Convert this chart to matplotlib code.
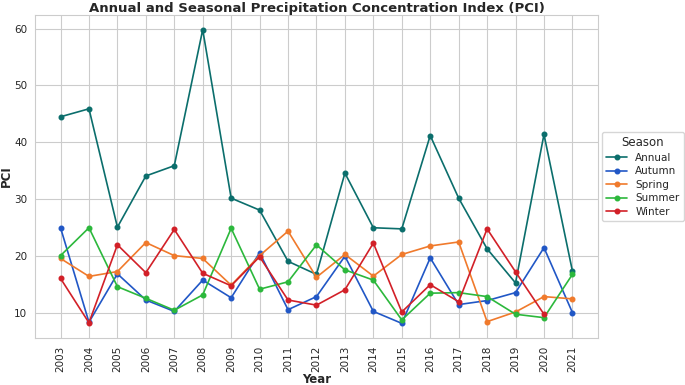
import numpy as np
import matplotlib
matplotlib.use("Agg")
import matplotlib.pyplot as plt
import seaborn as sns

years = list(range(2003, 2022))
annual = [44.5, 45.9, 25.1, 34.1, 35.9, 59.8, 30.2, 28.1, 19.1, 16.8,
          34.6, 25.0, 24.8, 41.2, 30.2, 21.3, 15.3, 41.4, 17.4]
autumn = [25.0, 8.4, 16.9, 12.3, 10.3, 15.8, 12.7, 20.6, 10.6, 12.9,
          20.0, 10.3, 8.2, 19.7, 11.5, 12.2, 13.6, 21.5, 10.1]
spring = [19.6, 16.45, 17.3, 22.4, 20.1, 19.6, 14.9, 20.1, 24.4, 16.3,
          20.3, 16.5, 20.3, 21.8, 22.5, 8.5, 10.2, 12.9, 12.5]
summer = [20.1, 25.0, 14.65, 12.6, 10.5, 13.2, 24.9, 14.2, 15.5, 22.0,
          17.6, 15.8, 8.8, 13.5, 13.6, 12.9, 9.8, 9.2, 16.8]
winter = [16.1, 8.3, 22.0, 17.1, 24.7, 17.0, 14.8, 19.9, 12.3, 11.4,
          14.1, 22.3, 10.2, 15.0, 12.0, 24.8, 17.25, 9.8, np.nan]

series = {"Annual": annual, "Autumn": autumn, "Spring": spring,
          "Summer": summer, "Winter": winter}
colors = {"Annual": "#0b6e6c", "Autumn": "#2157c6", "Spring": "#f07a2c",
          "Summer": "#2cb83c", "Winter": "#d22028"}

sns.set_style("whitegrid")
plt.rcParams['font.family'] = ['DejaVu Sans']

fig = plt.figure(figsize=(6.85, 3.85), dpi=100)
ax = fig.add_axes([0.051, 0.122, 0.822, 0.839])

for name, vals in series.items():
    ax.plot(years, vals, marker='o', markersize=3.3, linewidth=1.2,
            color=colors[name], label=name)

ax.set_xticks(years)
ax.set_xticklabels([str(y) for y in years], rotation=90, fontsize=7.5)
ax.tick_params(axis='both', pad=2)
ax.tick_params(axis='y', labelsize=7.5)
ax.set_yticks([10, 20, 30, 40, 50, 60])
ax.set_xlabel("Year", fontsize=8.5, fontweight='bold', labelpad=1)
ax.set_ylabel("PCI", fontsize=8.5, fontweight='bold', labelpad=1)
ax.set_title("Annual and Seasonal Precipitation Concentration Index (PCI)",
             fontsize=9.5, fontweight='bold', pad=2)
for s in ax.spines.values():
    s.set_color('#cccccc')

leg = ax.legend(title="Season", loc='center left', bbox_to_anchor=(0.998, 0.5),
                fontsize=7.5, title_fontsize=8.5, frameon=True,
                handlelength=2.0, borderpad=0.4, labelspacing=0.35)

fig.savefig("out.png", dpi=100)
